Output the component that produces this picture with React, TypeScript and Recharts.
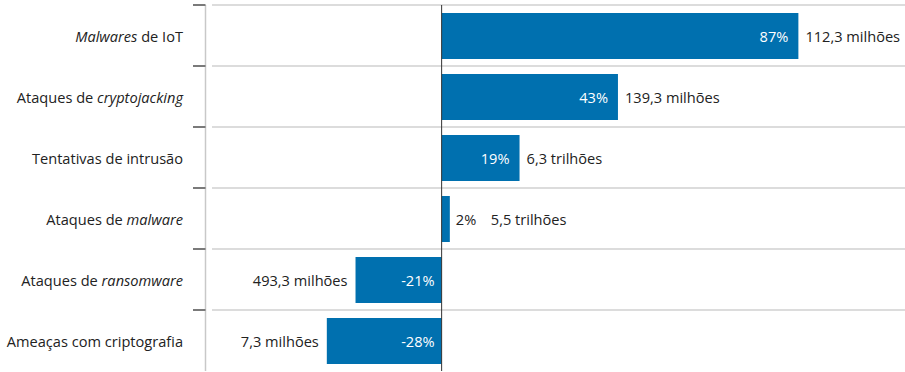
import {
  BarChart,
  Bar,
  XAxis,
  YAxis,
  CartesianGrid,
  ReferenceLine,
  LabelList,
} from "recharts";

const categories: string[] = [
  "Malwares de IoT",
  "Ataques de cryptojacking",
  "Tentativas de intrusão",
  "Ataques de malware",
  "Ataques de ransomware",
  "Ameaças com criptografia",
];
// words shown in italics inside each category label
const italicTerms: string[] = [
  "Malwares",
  "cryptojacking",
  "",
  "malware",
  "ransomware",
  "",
];
const changePct: number[] = [87, 43, 19, 2, -21, -28];
const totals: string[] = [
  "112,3 milhões",
  "139,3 milhões",
  "6,3 trilhões",
  "5,5 trilhões",
  "493,3 milhões",
  "7,3 milhões",
];
const X_DOMAIN: [number, number] = [-56, 113];

const data = categories.map((name, i) => ({
  name,
  italic: italicTerms[i],
  pct: changePct[i],
  total: totals[i],
}));

const FONT = "'Open Sans', sans-serif";
const TEXT = "#222";
const BLUE = "#0070af";
const BAND = 61;

const CategoryTick = (props: any) => {
  const { x, y, payload, index } = props;
  const label: string = payload.value;
  const term = italicTerms[index] || "";
  let parts: { t: string; i: boolean }[] = [{ t: label, i: false }];
  if (term && label.includes(term)) {
    const at = label.indexOf(term);
    parts = [
      { t: label.slice(0, at), i: false },
      { t: term, i: true },
      { t: label.slice(at + term.length), i: false },
    ].filter((p) => p.t.length > 0);
  }
  const top = y - BAND / 2;
  const axisX = Math.round(x) + 1.5;
  return (
    <g>
      <line x1={axisX} x2={axisX} y1={top} y2={top + BAND} stroke="#c8c8c8" strokeWidth={1.5} />
      <line x1={x - 11} x2={axisX} y1={top} y2={top} stroke="#7a7a7a" strokeWidth={2} />
      <text
        x={x - 21}
        y={y}
        textAnchor="end"
        dominantBaseline="central"
        fontFamily={FONT}
        fontSize={14.6}
        fill={TEXT}
      >
        {parts.map((p, k) => (
          <tspan key={k} fontStyle={p.i ? "italic" : "normal"}>
            {p.t}
          </tspan>
        ))}
      </text>
    </g>
  );
};

const BarLabels = (props: any) => {
  const { x, y, width, height, index } = props;
  const v = changePct[index];
  const left = Math.min(x, x + width);
  const right = Math.max(x, x + width);
  const cy = y + height / 2;
  const w = right - left;
  const pctText = `${v}%`;
  const common = {
    y: cy,
    dominantBaseline: "central" as const,
    fontFamily: FONT,
    fontSize: 14.6,
  };
  if (v >= 0) {
    const inside = w > 40;
    return (
      <g>
        {inside ? (
          <text {...common} x={right - 10} textAnchor="end" fill="#fff">
            {pctText}
          </text>
        ) : (
          <text {...common} x={right + 6} textAnchor="start" fill={TEXT}>
            {pctText}
          </text>
        )}
        <text
          {...common}
          x={inside ? right + 7 : right + 41}
          textAnchor="start"
          fill={TEXT}
        >
          {totals[index]}
        </text>
      </g>
    );
  }
  return (
    <g>
      <text {...common} x={right - 7} textAnchor="end" fill="#fff">
        {pctText}
      </text>
      <text {...common} x={left - 8} textAnchor="end" fill={TEXT}>
        {totals[index]}
      </text>
    </g>
  );
};

const App = () => {
  return (
    <div style={{ position: "absolute", left: 0, top: 0, background: "#fff" }}>
      <BarChart
        width={905}
        height={372}
        data={data}
        layout="vertical"
        margin={{ top: 5, right: 0, bottom: 1, left: 0 }}
        barCategoryGap={0}
      >
        <CartesianGrid
          vertical={false}
          stroke="#dcdcdc"
          strokeWidth={2}
          horizontalCoordinatesGenerator={({ offset }: any) =>
            categories.map((_, i) => offset.top + (i * offset.height) / categories.length)
          }
        />
        <XAxis type="number" domain={X_DOMAIN} hide />
        <YAxis
          type="category"
          dataKey="name"
          width={212}
          axisLine={false}
          tickLine={false}
          tick={<CategoryTick />}
          interval={0}
        />
        <Bar dataKey="pct" fill={BLUE} barSize={46} isAnimationActive={false}>
          <LabelList dataKey="pct" content={<BarLabels />} />
        </Bar>
        <ReferenceLine x={0} stroke="#333" strokeWidth={1} />
      </BarChart>
    </div>
  );
};

export default App;
